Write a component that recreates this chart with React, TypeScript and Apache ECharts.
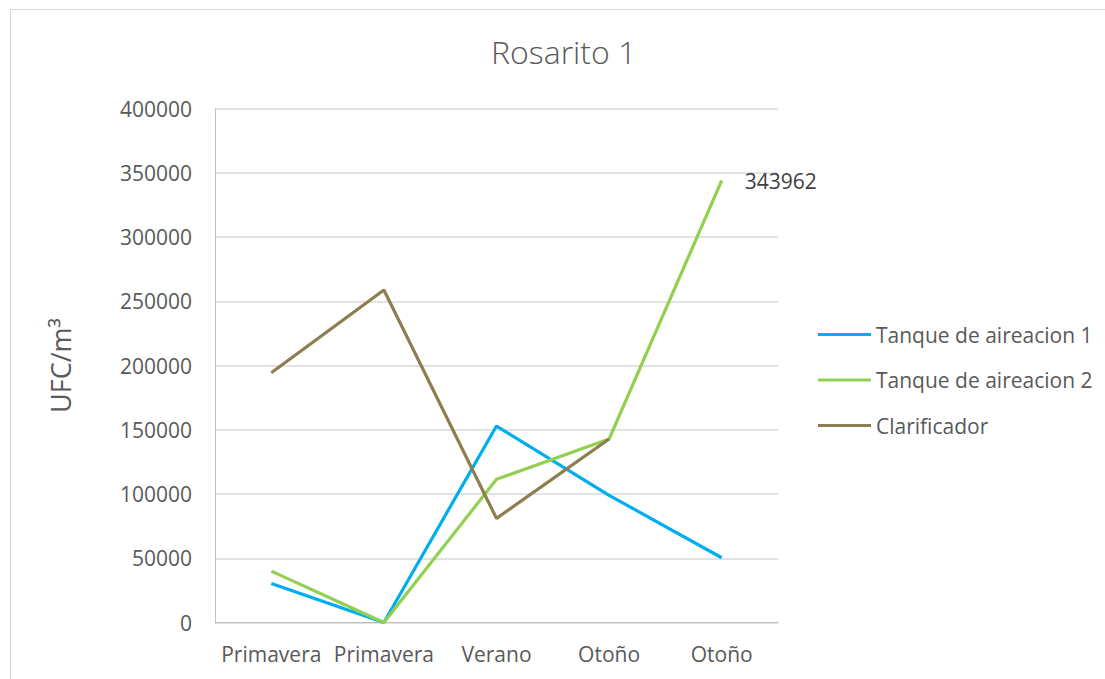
import React, { useEffect, useRef } from "react";
import * as echarts from "echarts";

const categories = ["Primavera", "Primavera", "Verano", "Otoño", "Otoño"];
const tanque1 = [30400, 0, 152900, 99000, 50400];
const tanque2 = [40000, 0, 111400, 142800, 343962];
const clarificador = [194400, 258800, 81000, 142800, null];
const yTicks = { min: 0, max: 400000, interval: 50000 };

const FONT = "'Open Sans', 'Noto Sans', sans-serif";
const TEXT = "#595959";

export default function App() {
  const ref = useRef<HTMLDivElement>(null);

  useEffect(() => {
    if (!ref.current) return;
    const chart = echarts.init(ref.current, null, { renderer: "svg" });
    const lastIdx = tanque2.length - 1;
    chart.setOption({
      animation: false,
      backgroundColor: "#ffffff",
      textStyle: { fontFamily: FONT },
      title: {
        text: "Rosarito 1",
        left: 486,
        top: 30,
        textStyle: { fontFamily: FONT, fontSize: 32, fontWeight: 300, color: TEXT },
      },
      graphic: [
        {
          type: "rect",
          shape: { x: 10.5, y: 9.5, width: 1120, height: 700 },
          style: { fill: "none", stroke: "#d9d9d9", lineWidth: 1 },
          silent: true,
        },
      ],
      legend: {
        orient: "vertical",
        left: 813,
        top: 319,
        itemWidth: 53,
        itemHeight: 3,
        itemGap: 24.5,
        icon: "rect",
        textStyle: { fontFamily: FONT, fontSize: 21, color: TEXT },
        data: ["Tanque de aireacion 1", "Tanque de aireacion 2", "Clarificador"],
      },
      grid: { left: 215, right: 327, top: 108.5, bottom: 56.5, containLabel: false },
      xAxis: {
        type: "category",
        data: categories,
        boundaryGap: true,
        axisLine: { lineStyle: { color: "#bfbfbf", width: 1 } },
        axisTick: { show: false },
        axisLabel: { fontFamily: FONT, fontSize: 21, color: TEXT, margin: 21, interval: 0 },
      },
      yAxis: {
        type: "value",
        min: yTicks.min,
        max: yTicks.max,
        interval: yTicks.interval,
        name: "UFC/m³",
        nameLocation: "middle",
        nameGap: 141,
        nameTextStyle: { fontFamily: FONT, fontSize: 27, color: TEXT },
        axisLine: { show: true, lineStyle: { color: "#bfbfbf", width: 1 } },
        axisTick: { show: false },
        splitLine: { lineStyle: { color: "#d9d9d9", width: 1.5 } },
        axisLabel: {
          fontFamily: FONT,
          fontSize: 21,
          color: TEXT,
          margin: 23,
          formatter: (v: number) => String(v),
        },
      },
      series: [
        {
          name: "Tanque de aireacion 1",
          type: "line",
          data: tanque1,
          symbol: "none",
          lineStyle: { color: "#00AEEF", width: 3.2 },
          itemStyle: { color: "#00AEEF" },
        },
        {
          name: "Tanque de aireacion 2",
          type: "line",
          data: tanque2.map((v, i) =>
            i === lastIdx
              ? {
                  value: v,
                  symbol: "circle",
                  symbolSize: 0.01,
                  label: {
                    show: true,
                    position: "right",
                    distance: 23,
                    fontFamily: FONT,
                    fontSize: 21,
                    color: "#404040",
                    formatter: "{c}",
                  },
                }
              : v
          ),
          symbol: "none",
          lineStyle: { color: "#92D050", width: 3.2 },
          itemStyle: { color: "#92D050" },
        },
        {
          name: "Clarificador",
          type: "line",
          data: clarificador,
          symbol: "none",
          connectNulls: false,
          lineStyle: { color: "#8C7E4E", width: 3.2 },
          itemStyle: { color: "#8C7E4E" },
        },
      ],
    });
    return () => chart.dispose();
  }, []);

  return (
    <div
      ref={ref}
      style={{ position: "absolute", left: 0, top: 0, width: 1105, height: 679 }}
    />
  );
}
